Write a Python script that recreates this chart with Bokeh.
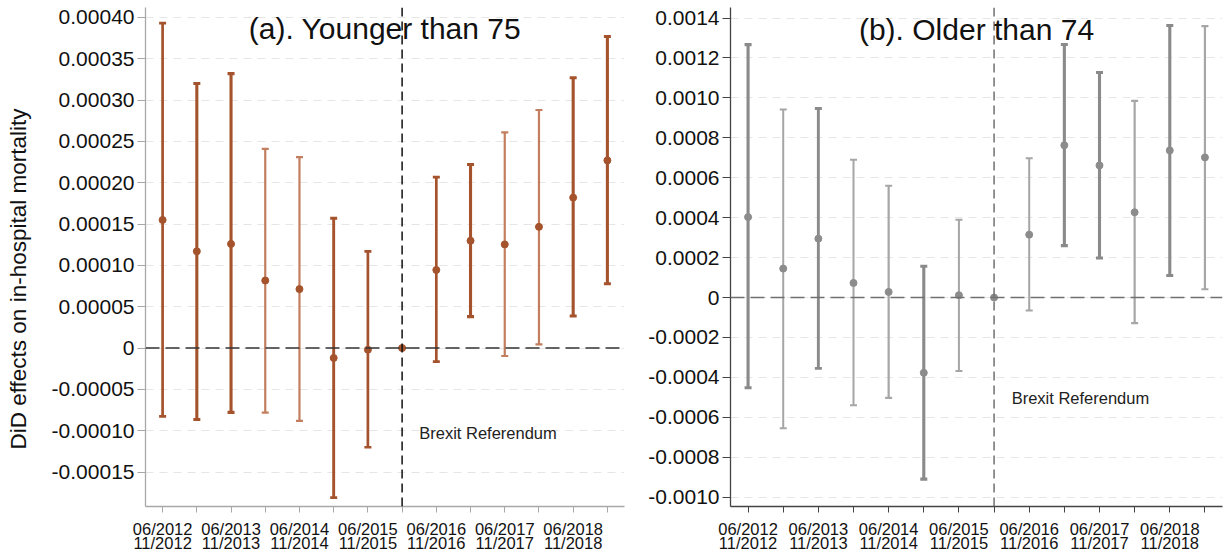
import math
from bokeh.plotting import figure
from bokeh.models import (FixedTicker, PrintfTickFormatter, Span, Label,
                          ColumnDataSource, Range1d)
from bokeh.layouts import row
from bokeh.embed import file_html
from bokeh.resources import INLINE

NAN = float("nan")

# ---- data ----
periods = ["06/2012", "11/2012", "06/2013", "11/2013", "06/2014", "11/2014",
           "06/2015", "11/2015", "06/2016", "11/2016", "06/2017", "11/2017",
           "06/2018", "11/2018"]
positions = list(range(1, 15))
ref_pos = 8

young_est = [0.000155, 0.000117, 0.000126, 0.0000817, 0.0000713, -0.000012, -0.000002,
             0.0, 0.0000945, 0.0001298, 0.0001254, 0.0001466, 0.000182, 0.000227]
young_lo = [-0.0000826, -0.0000865, -0.0000778, -0.0000781, -0.0000882, -0.000181, -0.00012,
            NAN, -0.0000165, 0.000038, -0.0000096, 0.0000044, 0.0000388, 0.0000777]
young_hi = [0.000393, 0.00032, 0.000332, 0.000241, 0.000231, 0.000157, 0.000117,
            NAN, 0.0002067, 0.000222, 0.000261, 0.000288, 0.000327, 0.000377]

old_est = [0.000403, 0.000145, 0.000295, 0.000073, 0.000028, -0.000377, 0.0000115,
           0.0, 0.000315, 0.000763, 0.000662, 0.000427, 0.000737, 0.000702]
old_lo = [-0.000452, -0.000655, -0.000355, -0.00054, -0.000503, -0.00091, -0.000368,
          NAN, -0.000065, 0.00026, 0.000198, -0.000128, 0.00011, 0.0000415]
old_hi = [0.001267, 0.000942, 0.000947, 0.00069, 0.00056, 0.000157, 0.00039,
          NAN, 0.000698, 0.001268, 0.001127, 0.000985, 0.001363, 0.00136]

young_ticks = [-0.00015, -0.0001, -0.00005, 0, 0.00005, 0.0001, 0.00015, 0.0002,
               0.00025, 0.0003, 0.00035, 0.0004]
old_ticks = [-0.001, -0.0008, -0.0006, -0.0004, -0.0002, 0, 0.0002, 0.0004, 0.0006,
             0.0008, 0.001, 0.0012, 0.0014]

y_label = "DiD effects on in-hospital mortality"

# ---- styles (line widths of the interval bars) ----
young_w = [2.7, 3.1, 3.1, 2.2, 2.2, 2.9, 2.7, 0, 2.7, 3.1, 2.2, 2.2, 3.1, 3.1]
old_w = [3.1, 2.0, 2.9, 2.0, 2.2, 3.1, 2.0, 0, 2.0, 3.1, 3.1, 2.2, 3.1, 2.2]

FONT = "Liberation Sans"
H = 555


def make_panel(est, lo, hi, widths, ticks, fmt, yr, width, mb_left, mb_right, dark, light,
               pt_color, axis_color, zero_color, vline_color, title, title_y, brexit_y):
    p = figure(width=width, height=H, output_backend="svg", toolbar_location=None,
               x_range=Range1d(0.5, 14.5), y_range=Range1d(*yr),
               min_border_left=mb_left, min_border_right=mb_right, min_border_top=7,
               min_border_bottom=49)
    p.outline_line_color = None
    p.background_fill_color = "white"
    p.border_fill_color = "white"

    keep = [i for i in range(len(positions)) if lo[i] == lo[i]]
    src = ColumnDataSource(dict(
        x=[positions[i] for i in keep],
        lo=[lo[i] for i in keep],
        hi=[hi[i] for i in keep],
        w=[widths[i] for i in keep],
        c=[dark if widths[i] >= 2.5 else light for i in keep],
    ))

    p.ygrid.ticker = FixedTicker(ticks=ticks)
    p.ygrid.grid_line_color = "#e6e6e6"
    p.ygrid.grid_line_dash = "8 6"
    p.ygrid.grid_line_width = 1
    p.xgrid.grid_line_color = None

    p.add_layout(Span(location=0, dimension="width", line_color=zero_color,
                      line_dash="14 6", line_width=1.6))
    p.add_layout(Span(location=ref_pos, dimension="height", line_color=vline_color,
                      line_dash="9 5", line_width=1.5))

    p.segment(x0="x", y0="lo", x1="x", y1="hi", line_width="w", line_color="c", source=src)
    p.scatter(x="x", y="hi", marker="dash", size=7, line_width="w", line_color="c", source=src)
    p.scatter(x="x", y="lo", marker="dash", size=7, line_width="w", line_color="c", source=src)
    p.scatter(x=positions, y=est, size=7, fill_color=pt_color, line_color=pt_color)

    # axes
    p.yaxis.ticker = FixedTicker(ticks=ticks)
    p.yaxis.formatter = PrintfTickFormatter(format=fmt)
    p.yaxis.major_label_overrides = {0: "0"}
    p.yaxis.minor_tick_line_color = None
    p.yaxis.major_tick_out = 8
    p.yaxis.major_tick_in = 0
    p.yaxis.major_label_standoff = 3
    p.yaxis.major_label_text_font = FONT
    p.yaxis.major_label_text_font_size = "21px"
    p.yaxis.major_label_text_color = "#111111"

    p.xaxis.ticker = FixedTicker(ticks=positions)
    labels = {}
    for i, pos in enumerate(positions):
        labels[pos] = periods[i] + "\n" + periods[i + 1] if i % 2 == 0 else ""
    p.xaxis.major_label_overrides = labels
    p.xaxis.minor_tick_line_color = None
    p.xaxis.major_tick_out = 6
    p.xaxis.major_tick_in = 0
    p.xaxis.major_label_standoff = 7
    p.xaxis.major_label_text_font = FONT
    p.xaxis.major_label_text_font_size = "16.5px"
    p.xaxis.major_label_text_line_height = 0.8
    p.xaxis.major_label_text_color = "#111111"

    for ax in (p.xaxis[0], p.yaxis[0]):
        ax.axis_line_color = axis_color
        ax.major_tick_line_color = axis_color
        ax.axis_line_width = 1.3

    p.add_layout(Label(x=7.5, y=title_y, text=title, text_align="center",
                       text_baseline="middle", text_font=FONT, text_font_size="30px",
                       text_color="#111111"))
    p.add_layout(Label(x=8.5, y=brexit_y, text="Brexit Referendum", text_align="left",
                       text_baseline="middle", text_font=FONT, text_font_size="16.5px",
                       text_color="#222222"))
    return p


# narrow strip holding the y-axis title
LW = 36
p0 = figure(width=LW, height=H, output_backend="svg", toolbar_location=None,
            x_range=Range1d(0, LW), y_range=Range1d(0, H),
            x_axis_type=None, y_axis_type=None,
            min_border_left=0, min_border_right=0, min_border_top=0, min_border_bottom=0)
p0.outline_line_color = None
p0.xgrid.grid_line_color = None
p0.ygrid.grid_line_color = None
p0.add_layout(Label(x=LW / 2, y=H - 302, text=y_label, angle=math.pi / 2,
                    text_align="center", text_baseline="middle", text_font=FONT,
                    text_font_size="22.5px", text_color="#111111"))

p1 = make_panel(young_est, young_lo, young_hi, young_w, young_ticks, "%.5f",
                (-0.0001917, 0.000412), 640 - LW, 145 - LW, 16, "#A5532D", "#C27E5E",
                "#A5532D", "#a8a8a8", "#333333", "#111111", "(a). Younger than 75",
                0.000386, -0.0001024)

p2 = make_panel(old_est, old_lo, old_hi, old_w, old_ticks, "%.4f",
                (-0.001047, 0.001453), 585, 90, 3, "#8A8A8A", "#A6A6A6", "#8C8C8C",
                "#444444", "#707070", "#707070", "(b). Older than 74",
                0.001343, -0.000505)

layout = row(p0, p1, p2)
open("out.html", "w").write(file_html(layout, INLINE))
